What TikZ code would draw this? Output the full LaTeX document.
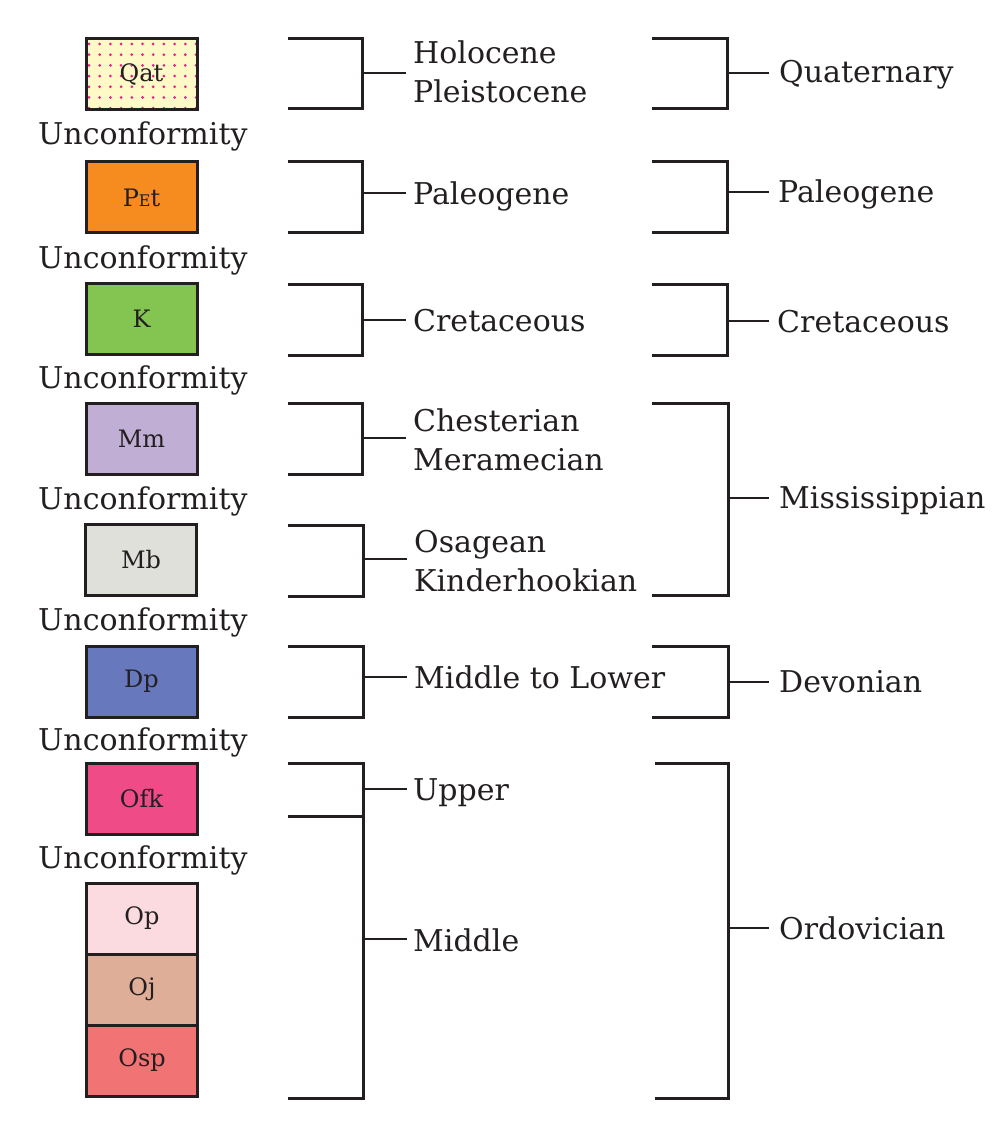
\documentclass[tikz,border=0pt]{standalone}
\usepackage{fontspec}
\setmainfont{DejaVu Serif}
\definecolor{ink}{HTML}{231F20}
\definecolor{cqat}{HTML}{FEFAC8}
\definecolor{cdot}{HTML}{EC1C8C}
\definecolor{cpet}{HTML}{F68B1F}
\definecolor{ck}{HTML}{84C451}
\definecolor{cmm}{HTML}{C1AED5}
\definecolor{cmb}{HTML}{DFE0DA}
\definecolor{cdp}{HTML}{6878BD}
\definecolor{cofk}{HTML}{EE4B87}
\definecolor{cop}{HTML}{FBDAE0}
\definecolor{coj}{HTML}{DFAE99}
\definecolor{cosp}{HTML}{F27373}
\tikzset{
  unit/.style={draw=ink, line width=3pt, minimum width=111pt, minimum height=71pt,
    inner sep=0pt, text=ink, font=\fontsize{24}{24}\selectfont},
  lbl/.style={anchor=base west, inner sep=0pt, text=ink, font=\fontsize{30}{39}\selectfont, align=left},
  brk/.style={draw=ink, line width=3pt},
  stem/.style={draw=ink, line width=2pt},
}
\begin{document}
\begin{tikzpicture}[x=1pt,y=-1pt]
\useasboundingbox (0,0) rectangle (1000,1123);
% unit boxes
\node[unit, fill=cqat] (qat) at (141.5,74.5) {};
\begin{scope}
  \clip (87,40) rectangle (196,109);
  \foreach \i in {0,...,10} \foreach \j in {0,...,6}
    \fill[cdot] (89+10.7*\i,44+10.7*\j) circle (1.5pt);
\end{scope}
\draw[ink, line width=3pt] (86,39) rectangle (197,110);
\node[inner sep=0pt, text=ink, font=\fontsize{24}{24}\selectfont] (qatl) at (qat.center) {Qat};
\node[unit, fill=cpet] (pet) at (141.5,197.5) {P{\fontsize{16}{16}\selectfont E}t};
\node[unit, fill=ck] (k) at (141.5,318.5) {K};
\node[unit, fill=cmm] (mm) at (141.5,439) {Mm};
\node[unit, fill=cmb] (mb) at (141,560) {Mb};
\node[unit, fill=cdp] (dp) at (141.5,681.5) {Dp};
\node[unit, fill=cofk] (ofk) at (141.5,798.5) {Ofk};
\node[unit, fill=cop] (op) at (142,918.5) {Op};
\node[unit, fill=coj] (oj) at (142,989.5) {Oj};
\node[unit, fill=cosp] (osp) at (142,1060.5) {Osp};
% unconformities
\foreach \b/\n in {145/u1,268/u2,388/u3,509/u4,630/u5,750/u6,868/u7}
  \node[lbl] (\n) at (38,\b) {Unconformity};
% first column brackets
\draw[brk] (288,39) -- (362,39) -- (362,109) -- (288,109);
\coordinate (s1) at (362,73);
\node[lbl] (t1) at (413,103) {Holocene\\Pleistocene};
\draw[stem] (s1) -- ++(44,0);
\draw[brk] (288,162) -- (362,162) -- (362,233) -- (288,233);
\coordinate (s2) at (362,193);
\node[lbl] (t2) at (413,205) {Paleogene};
\draw[stem] (s2) -- ++(44,0);
\draw[brk] (288,284) -- (362,284) -- (362,355) -- (288,355);
\coordinate (s3) at (362,320);
\node[lbl] (t3) at (413,331) {Cretaceous};
\draw[stem] (s3) -- ++(44,0);
\draw[brk] (288,403) -- (362,403) -- (362,474) -- (288,474);
\coordinate (s4) at (362,438);
\node[lbl] (t4) at (413,470) {Chesterian\\Meramecian};
\draw[stem] (s4) -- ++(44,0);
\draw[brk] (288,525) -- (363,525) -- (363,596) -- (288,596);
\coordinate (s5) at (363,559);
\node[lbl] (t5) at (414,591) {Osagean\\Kinderhookian};
\draw[stem] (s5) -- ++(44,0);
\draw[brk] (288,646) -- (363,646) -- (363,717) -- (288,717);
\coordinate (s6) at (363,677);
\node[lbl] (t6) at (414,688) {Middle to Lower};
\draw[stem] (s6) -- ++(44,0);
\draw[brk] (288,763) -- (363,763) -- (363,1098) -- (288,1098);
\draw[brk] (288,816) -- (363,816);
\coordinate (s7) at (363,789);
\node[lbl] (t7) at (413,800) {Upper};
\draw[stem] (s7) -- ++(44,0);
\coordinate (s8) at (363,939);
\node[lbl] (t8) at (413,951) {Middle};
\draw[stem] (s8) -- ++(44,0);
% second column brackets
\draw[brk] (652,39) -- (727,39) -- (727,109) -- (652,109);
\coordinate (r1) at (727,73);
\node[lbl] (q1) at (779,83) {Quaternary};
\draw[stem] (r1) -- ++(42,0);
\draw[brk] (652,162) -- (727,162) -- (727,233) -- (652,233);
\coordinate (r2) at (727,192);
\node[lbl] (q2) at (778,203) {Paleogene};
\draw[stem] (r2) -- ++(42,0);
\draw[brk] (652,284) -- (727,284) -- (727,355) -- (652,355);
\coordinate (r3) at (727,321);
\node[lbl] (q3) at (777,332) {Cretaceous};
\draw[stem] (r3) -- ++(42,0);
\draw[brk] (652,403) -- (728,403) -- (728,595) -- (652,595);
\coordinate (r4) at (728,498);
\node[lbl] (q4) at (779,508) {Mississippian};
\draw[stem] (r4) -- ++(41,0);
\draw[brk] (652,646) -- (728,646) -- (728,717) -- (652,717);
\coordinate (r5) at (728,682);
\node[lbl] (q5) at (779,692) {Devonian};
\draw[stem] (r5) -- ++(41,0);
\draw[brk] (655,763) -- (728,763) -- (728,1098) -- (655,1098);
\coordinate (r6) at (728,928);
\node[lbl] (q6) at (779,939) {Ordovician};
\draw[stem] (r6) -- ++(41,0);
\end{tikzpicture}
\end{document}
